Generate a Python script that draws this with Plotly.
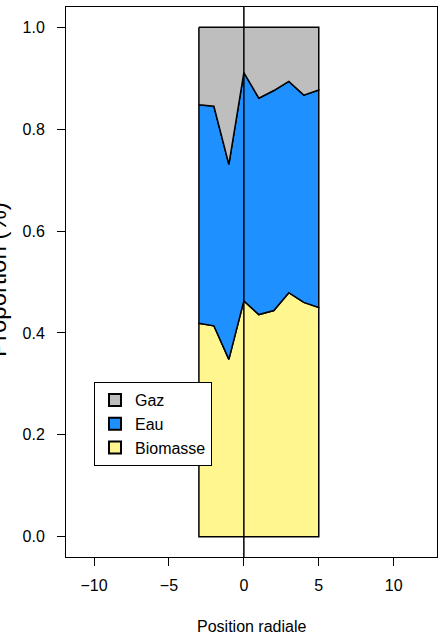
import plotly.graph_objects as go

# Data
positions = [-3, -2, -1, 0, 1, 2, 3, 4, 5]
biomasse = [0.419, 0.414, 0.348, 0.463, 0.436, 0.444, 0.479, 0.460, 0.450]
eau = [0.429, 0.431, 0.383, 0.448, 0.425, 0.432, 0.415, 0.407, 0.427]
gaz = [0.152, 0.155, 0.269, 0.089, 0.139, 0.124, 0.106, 0.133, 0.123]
series_names = ["Gaz", "Eau", "Biomasse"]
x_ticks = [-10, -5, 0, 5, 10]
y_ticks = [0.0, 0.2, 0.4, 0.6, 0.8, 1.0]

colors = {"Gaz": "#BEBEBE", "Eau": "#1E90FF", "Biomasse": "#FFF68F"}
FONT = "Liberation Sans, Arial, Helvetica, sans-serif"

# cumulative boundaries
lvl0 = [0.0 for _ in positions]
lvl1 = [b for b in biomasse]
lvl2 = [b + e for b, e in zip(biomasse, eau)]
lvl3 = [b + e + g for b, e, g in zip(biomasse, eau, gaz)]
bounds = {"Biomasse": (lvl0, lvl1), "Eau": (lvl1, lvl2), "Gaz": (lvl2, lvl3)}

fig = go.Figure()
for name in ["Biomasse", "Eau", "Gaz"]:
    lo, hi = bounds[name]
    xs = positions + positions[::-1] + [positions[0]]
    ys = hi + lo[::-1] + [hi[0]]
    fig.add_trace(go.Scatter(
        x=xs, y=ys, mode="lines", fill="toself",
        fillcolor=colors[name], line=dict(color="black", width=1.5),
        showlegend=False, hoverinfo="skip"))

# legend entries
for name in series_names:
    fig.add_trace(go.Scatter(
        x=[None], y=[None], mode="markers", name=name,
        marker=dict(symbol="square", size=11, color=colors[name],
                    line=dict(color="black", width=1))))

fig.add_shape(type="line", xref="x", yref="paper", x0=0, x1=0, y0=0, y1=1,
              line=dict(color="black", width=1.5))

fig.update_layout(
    width=448, height=638,
    margin=dict(l=66, r=11, t=7, b=81),
    paper_bgcolor="white", plot_bgcolor="white",
    font=dict(family=FONT, size=16, color="black"),
    showlegend=True,
    legend=dict(x=0.0755, y=(557 - 382) / 550, xanchor="left", yanchor="top",
                bgcolor="white", bordercolor="black", borderwidth=1,
                font=dict(size=16, family=FONT), traceorder="normal",
                itemsizing="constant", tracegroupgap=0),
    xaxis=dict(range=[-11.87, 12.89], tickvals=x_ticks,
               ticktext=["\u221210", "\u22125", "0", "5", "10"],
               showgrid=False, zeroline=False, showline=True, mirror=True,
               linecolor="black", linewidth=1, ticks="outside", ticklen=8,
               tickcolor="black", ticklabelstandoff=6,
               tickfont=dict(size=16, family=FONT)),
    yaxis=dict(range=[-0.04, 1.04], tickvals=y_ticks,
               ticktext=["0.0", "0.2", "0.4", "0.6", "0.8", "1.0"],
               showgrid=False, zeroline=False, showline=True, mirror=True,
               linecolor="black", linewidth=1, ticks="outside", ticklen=8,
               tickcolor="black", ticklabelstandoff=9,
               tickfont=dict(size=16, family=FONT)),
    annotations=[
        dict(text="Position radiale", xref="paper", yref="paper",
             x=0.5, y=(557 - 626) / 550, xanchor="center", yanchor="middle",
             showarrow=False, font=dict(size=16, family=FONT)),
        dict(text="Proportion (%)", xref="paper", yref="paper",
             x=(-3 - 66) / 371, y=(557 - 280) / 550, xanchor="center",
             yanchor="middle", textangle=-90, showarrow=False,
             font=dict(size=24, family=FONT)),
    ],
)

fig.write_html("out.html", config={"displayModeBar": False},
               post_script="document.body.style.margin='0px';")
